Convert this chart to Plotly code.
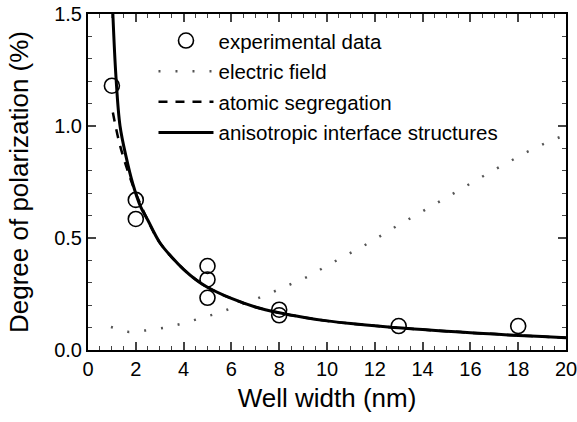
import plotly.graph_objects as go

# experimental data
exp_x = [1, 2, 2, 5, 5, 5, 8, 8, 13, 18]
exp_y = [1.18, 0.67, 0.585, 0.375, 0.315, 0.233, 0.18, 0.155, 0.107, 0.107]

# electric field (dotted)
ef_x = [0.96, 1.72, 2.48, 3.25, 4.01, 4.75, 5.49, 6.24, 7.0, 7.76, 8.53, 9.26, 9.99,
        10.75, 11.5, 12.27, 13.0, 13.77, 14.54, 15.26, 16.02, 16.76, 17.53, 18.29, 19.05, 19.78]
ef_y = [0.103, 0.08, 0.088, 0.10, 0.12, 0.142, 0.166, 0.197, 0.226, 0.26, 0.297, 0.33, 0.376,
        0.418, 0.463, 0.511, 0.559, 0.605, 0.653, 0.70, 0.746, 0.79, 0.835, 0.88, 0.919, 0.952]

# atomic segregation (dashed)
as_x = [1.04, 1.3, 1.6, 2.0, 2.5, 3, 4, 5, 6, 7, 8, 9, 10, 11, 12, 13, 14, 15, 16, 17, 18, 19, 20]
as_y = [1.06, 0.93, 0.82, 0.70, 0.58, 0.48, 0.36, 0.28, 0.23, 0.192, 0.166, 0.146, 0.13, 0.118,
        0.108, 0.099, 0.091, 0.084, 0.077, 0.071, 0.065, 0.06, 0.055]

# anisotropic interface structures (solid)
ai_x = [1.04, 1.17, 1.34, 1.6, 1.88, 2.2, 2.5, 3, 3.5, 4, 4.5, 5, 6, 7, 8, 9, 10, 11, 12, 13,
        14, 15, 16, 17, 18, 19, 20]
ai_y = [1.5, 1.22, 1.0, 0.86, 0.74, 0.64, 0.58, 0.48, 0.415, 0.36, 0.315, 0.28, 0.23, 0.192,
        0.166, 0.146, 0.13, 0.118, 0.108, 0.099, 0.091, 0.084, 0.077, 0.071, 0.065, 0.06, 0.055]

fig = go.Figure()
fig.add_trace(go.Scatter(x=exp_x, y=exp_y, mode="markers", name="experimental data", legendgroup="a",
                         marker=dict(symbol="circle-open", size=15, color="black", line=dict(width=1.6))))
fig.add_trace(go.Scatter(x=ef_x, y=ef_y, mode="lines", name="electric field", legendgroup="b",
                         line=dict(color="#555", width=2.5, dash="2px,15px")))
fig.add_trace(go.Scatter(x=as_x, y=as_y, mode="lines", name="atomic segregation", legendgroup="c",
                         line=dict(color="black", width=2.5, dash="9px,8px", shape="spline")))
fig.add_trace(go.Scatter(x=ai_x, y=ai_y, mode="lines", name="anisotropic interface structures",
                         legendgroup="d", line=dict(color="black", width=3, shape="spline")))

font = "Arial, Liberation Sans, sans-serif"
fig.update_layout(
    width=577, height=422,
    margin=dict(l=88, r=11, t=14, b=72),
    plot_bgcolor="white", paper_bgcolor="white",
    font=dict(family=font, color="black", size=20),
    showlegend=True,
    legend=dict(x=0.137, y=0.98, xanchor="left", yanchor="top", bgcolor="rgba(0,0,0,0)",
                font=dict(size=20.5), itemwidth=55, tracegroupgap=1),
    xaxis=dict(range=[0, 20], tickvals=list(range(0, 21, 2)), ticks="inside", ticklen=8,
               tickwidth=1.5, showline=True, linecolor="black", linewidth=2, mirror="ticks",
               showgrid=False, zeroline=False, automargin=False, tickfont=dict(size=20),
               ticklabeloverflow="allow",
               minor=dict(dtick=0.5, ticks="inside", ticklen=4, tickwidth=1.2, showgrid=False),
               title=dict(text="Well width (nm)", font=dict(size=26), standoff=10)),
    yaxis=dict(range=[0, 1.5], tickvals=[0, 0.5, 1.0, 1.5], ticktext=["0.0", "0.5", "1.0", "1.5"],
               ticks="inside", ticklen=8, tickwidth=1.5, showline=True, linecolor="black",
               linewidth=2, mirror="ticks", showgrid=False, zeroline=False, automargin=False,
               tickfont=dict(size=20), ticklabeloverflow="allow",
               minor=dict(dtick=0.1, ticks="inside", ticklen=4, tickwidth=1.2, showgrid=False),
               title=dict(text="Degree of polarization (%)", font=dict(size=26), standoff=18)),
)
fig.write_html("out.html")
